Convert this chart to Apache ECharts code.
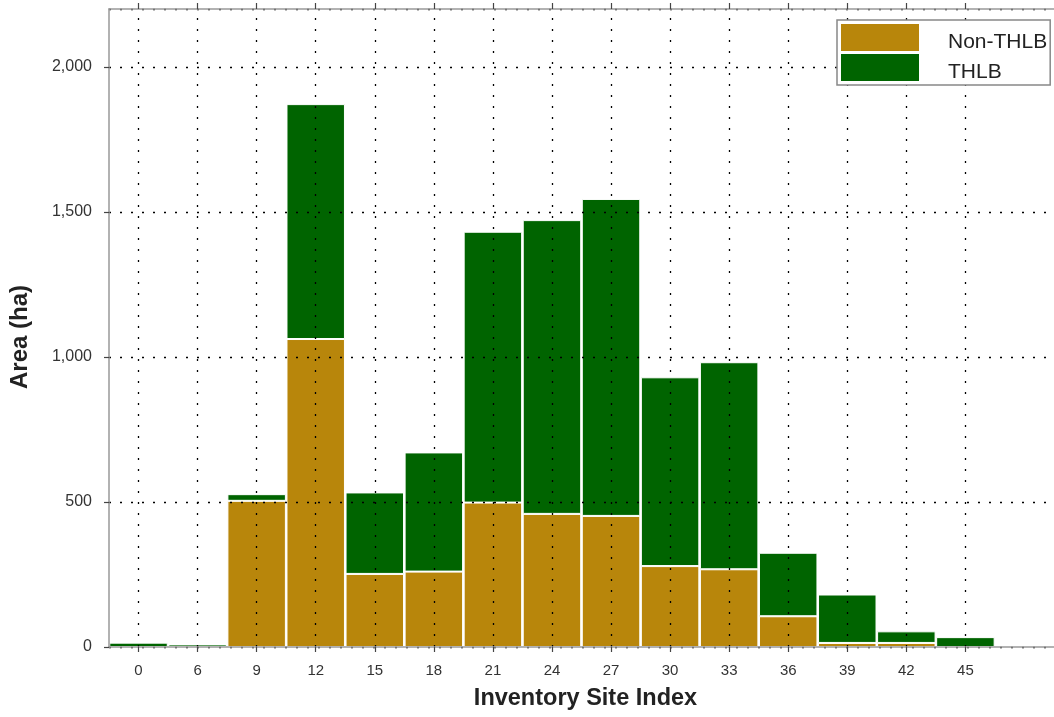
<!DOCTYPE html>
<html>
<head>
<meta charset="utf-8">
<script src="https://cdn.jsdelivr.net/npm/echarts@6/dist/echarts.min.js"></script>
<style>
  html, body { margin: 0; padding: 0; background: #fff; }
  #chart { width: 1054px; height: 717px; }
</style>
</head>
<body>
<div id="chart"></div>
<script>
// Site index classes; the trailing empty slot leaves room on the right of the plot
const siteIndex = ['0', '6', '9', '12', '15', '18', '21', '24', '27', '30', '33', '36', '39', '42', '45', ''];
// Area (ha) per site index class
const nonThlb = [0, 0, 504, 1062, 252, 260, 498, 459, 452, 279, 268, 106, 14, 14, 0];
const thlb    = [15, 9, 23, 810, 281, 411, 934, 1013, 1093, 651, 714, 219, 167, 40, 34];
const yTicks = { min: 0, max: 2200, step: 500 };

const FONT = '"Liberation Sans", Arial, sans-serif';
const lastReal = siteIndex.length - 2;
const showTick = (i) => i <= lastReal;
const gridDots = { color: '#000', width: 1.3, type: [2, 9] };

const chart = echarts.init(document.getElementById('chart'), null, { renderer: 'canvas' });

chart.setOption({
  animation: false,
  backgroundColor: '#ffffff',
  grid: { left: 107, right: -5, top: 9, bottom: 70, containLabel: false },
  legend: {
    data: ['Non-THLB', 'THLB'],
    orient: 'vertical',
    left: 837,
    top: 20,
    itemWidth: 80,
    itemHeight: 29,
    itemGap: -1,
    padding: [2, 3, 2, 2],
    borderColor: '#888',
    borderWidth: 1.5,
    backgroundColor: '#fff',
    icon: 'rect',
    formatter: (name) => '{t|' + name + '}',
    textStyle: {
      fontFamily: FONT, fontSize: 21, color: '#222',
      rich: { t: { fontFamily: FONT, fontSize: 21, color: '#222', lineHeight: 17, padding: [10, 0, 0, 23] } }
    },
    z: 20
  },
  xAxis: [
    {
      type: 'category',
      data: siteIndex,
      position: 'bottom',
      boundaryGap: true,
      z: 5,
      name: 'Inventory Site Index',
      nameLocation: 'middle',
      nameGap: 40,
      nameTextStyle: { fontFamily: FONT, fontSize: 23.5, fontWeight: 'bold', color: '#222', padding: [0, 0, 0, 8] },
      axisLine: { show: true, lineStyle: { color: '#999', width: 1.5 } },
      axisTick: { show: true, alignWithLabel: true, inside: false, length: 5, interval: showTick, lineStyle: { color: '#444', width: 1.2 } },
      axisLabel: { fontFamily: FONT, fontSize: 15, color: '#333', margin: 16, interval: showTick },
      splitLine: { show: false }
    },
    {
      type: 'category',
      data: siteIndex,
      position: 'top',
      boundaryGap: true,
      z: 5,
      axisLine: { show: true, lineStyle: { color: '#999', width: 1.5 } },
      axisTick: { show: true, alignWithLabel: true, inside: false, length: 6, interval: showTick, lineStyle: { color: '#444', width: 1.2 } },
      axisLabel: { show: false },
      splitLine: { show: false }
    }
  ],
  yAxis: {
    type: 'value',
    min: yTicks.min,
    max: yTicks.max,
    interval: yTicks.step,
    z: 5,
    name: 'Area (ha)',
    nameLocation: 'middle',
    nameGap: 77,
    nameRotate: 90,
    nameTextStyle: { fontFamily: FONT, fontSize: 24, fontWeight: 'bold', color: '#222', padding: [0, 18, 0, 0] },
    axisLine: { show: true, lineStyle: { color: '#999', width: 1.5 } },
    axisTick: { show: true, inside: false, length: 5, lineStyle: { color: '#444', width: 1.2 } },
    axisLabel: {
      fontFamily: FONT, fontSize: 16, color: '#333', margin: 17,
      showMaxLabel: false,
      formatter: (v) => (v % yTicks.step !== 0) ? '' : v.toLocaleString('en-US')
    },
    splitLine: { show: true, lineStyle: gridDots }
  },
  series: [
    {
      name: 'Non-THLB',
      type: 'bar',
      stack: 'area',
      xAxisIndex: 0,
      data: nonThlb,
      barWidth: '99%',
      itemStyle: { color: '#B8860B', borderColor: '#ffffff', borderWidth: 1 },
      z: 2
    },
    {
      name: 'THLB',
      type: 'bar',
      stack: 'area',
      xAxisIndex: 0,
      data: thlb,
      barWidth: '99%',
      itemStyle: { color: '#006400', borderColor: '#ffffff', borderWidth: 1 },
      z: 2
    },
    {
      // vertical dotted grid lines through each class centre, drawn above the bars
      name: 'xgrid',
      type: 'line',
      xAxisIndex: 0,
      data: [],
      z: 6,
      silent: true,
      markLine: {
        silent: true,
        symbol: ['none', 'none'],
        label: { show: false },
        lineStyle: gridDots,
        emphasis: { disabled: true },
        data: siteIndex.slice(0, lastReal + 1).map((c) => ({ xAxis: c }))
      }
    }
  ]
});
</script>
</body>
</html>
